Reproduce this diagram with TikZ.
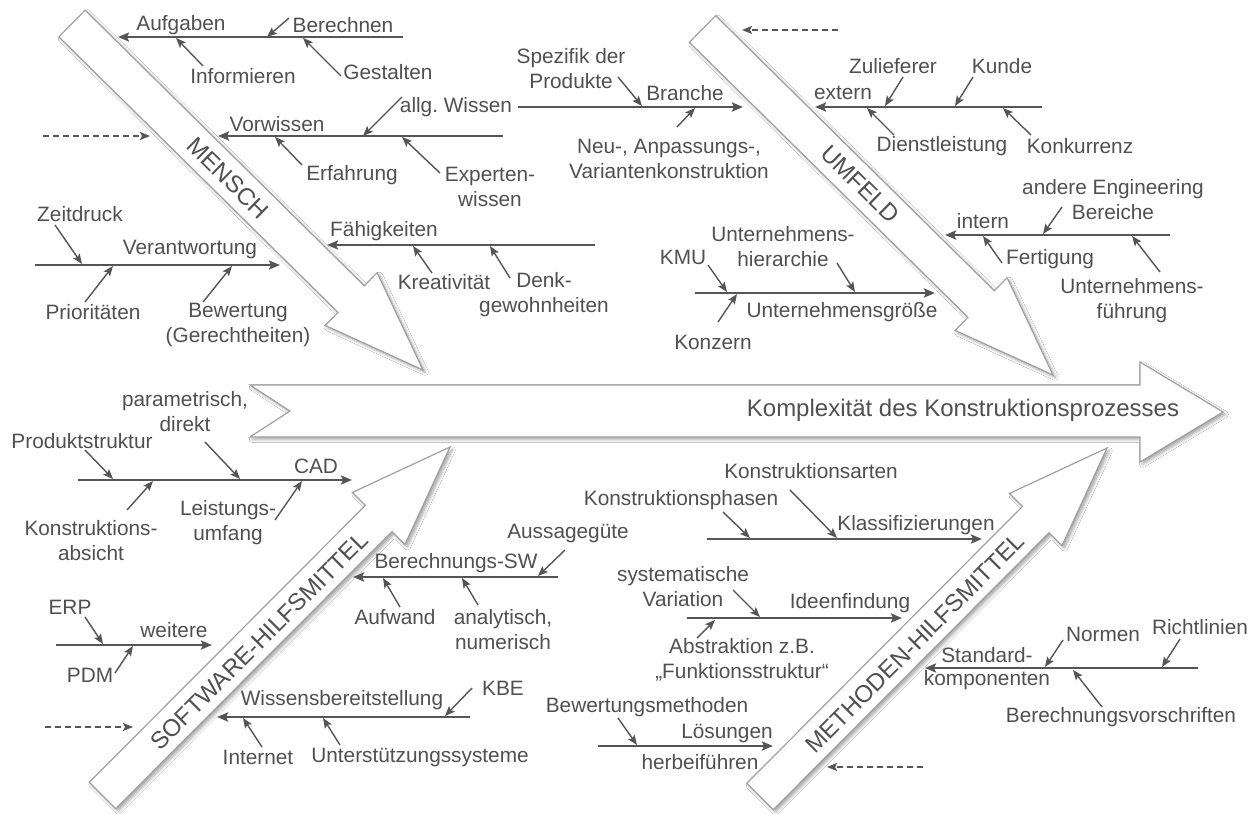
\documentclass[tikz,border=0pt]{standalone}
\usepackage{fontspec}
\setmainfont{Liberation Sans}
\usetikzlibrary{arrows.meta,shadows.blur,calc}
\definecolor{ink}{HTML}{555555}
\definecolor{txt}{HTML}{505050}
\definecolor{barline}{HTML}{A0A0A0}
\newcommand{\conn}[4]{\coordinate (#1s) at (#3); \coordinate (#1e) at (#4); \draw[#2] (#1s) -- (#1e);}
\newcommand{\barrow}[2]{%
  \coordinate (bT) at (#1); \coordinate (bP) at (#2);
  \coordinate (bB) at ($(bP)!101pt!(bT)$);
  \path[blk] ($(bT)!18.7pt!90:(bP)$) -- ($(bB)!18.7pt!90:(bP)$) -- ($(bB)!37pt!90:(bP)$) -- (bP)
     -- ($(bB)!37pt!-90:(bP)$) -- ($(bB)!18.7pt!-90:(bP)$) -- ($(bT)!18.7pt!-90:(bP)$) -- cycle;}
\begin{document}
\begin{tikzpicture}[x=1pt,y=-1pt,
  lbl/.style={text=txt, font=\fontsize{20.8}{25}\selectfont, inner sep=0pt, align=center},
  barlbl/.style={text=txt, font=\fontsize{24}{28}\selectfont, inner sep=0pt},
  bone/.style={draw=ink, line width=2.4pt, -{Stealth[length=11pt,width=9pt,inset=2pt]}},
  sub/.style={draw=ink, line width=1.4pt, -{Stealth[length=10pt,width=8pt,inset=2pt]}},
  dasharrow/.style={draw=ink, line width=1.6pt, dash pattern=on 6pt off 4pt, -{Stealth[length=10pt,width=8pt,inset=2pt]}},
  blk/.style={draw=barline, line width=1.2pt, fill=white, blur shadow={shadow xshift=2.5pt,shadow yshift=-2.5pt,shadow blur radius=3pt,shadow blur steps=6,shadow opacity=35}}
]
\useasboundingbox (0,0) rectangle (1259,814);
\fill[white] (0,0) rectangle (1259,814);

% main spine
\path[blk] (250,385) -- (1140,385) -- (1140,362) -- (1223,412) -- (1140,462) -- (1140,437) -- (250,437) -- (290,411) -- cycle;
\node[text=txt, font=\fontsize{24}{28}\selectfont, inner sep=0pt] (komplex) at (963,410) {Komplexität des Konstruktionsprozesses};

% category bars
\barrow{72,23.5}{423,370}
\barrow{702.5,29}{1053,375}
\barrow{102.5,795.5}{450,447}
\barrow{760,796.5}{1107,448}
\node[barlbl, rotate=-44.6] (mensch) at (228,178) {MENSCH};
\node[barlbl, rotate=-44.6] (umfeld) at (860,184) {UMFELD};
\node[barlbl, rotate=45.1] (software) at (259,641) {SOFTWARE-HILFSMITTEL};
\node[barlbl, rotate=45.1] (methoden) at (915,643) {METHODEN-HILFSMITTEL};

% ---------------- MENSCH
\node[lbl] (aufg) at (181,25) {Aufgaben};
\conn{aufgL}{bone}{403,37}{118,37}
\node[lbl] (berech) at (343,25) {Berechnen};
\conn{berechA}{sub}{289,18}{267,37}
\node[lbl] (inform) at (243,76) {Informieren};
\conn{informA}{sub}{203,66}{176,38}
\node[lbl] (gestalt) at (388,72) {Gestalten};
\conn{gestaltA}{sub}{341,76}{303,38}

\node[lbl] (vorw) at (277,124) {Vorwissen};
\conn{vorwL}{bone}{503,136}{218,136}
\node[lbl] (allg) at (456,107) {allg.\ Wissen};
\conn{allgA}{sub}{402,97}{363,136}
\node[lbl] (erf) at (352,175) {Erfahrung};
\conn{erfA}{sub}{302,165}{275,137}
\node[lbl] (expert) at (490,187) {Experten-\\wissen};
\conn{expertA}{sub}{440,173}{402,137}
\conn{dashM}{dasharrow}{43,136}{150,136}

\node[lbl] (faeh) at (384,231) {Fähigkeiten};
\conn{faehL}{bone}{595,245}{327,245}
\node[lbl] (kreat) at (444,282) {Kreativität};
\conn{kreatA}{sub}{432,273}{413,246}
\node[lbl] (denk) at (544,295) {Denk-\\gewohnheiten};
\conn{denkA}{sub}{510,278}{490,246}

\node[lbl] (verant) at (190,250) {Verantwortung};
\conn{verantL}{bone}{35,265}{280,265}
\node[lbl] (zeit) at (80,214) {Zeitdruck};
\conn{zeitA}{sub}{55,225}{82,264}
\node[lbl] (prio) at (93,312) {Prioritäten};
\conn{prioA}{sub}{85,302}{113,266}
\node[lbl] (bewert) at (238,325) {Bewertung\\(Gerechtheiten)};
\conn{bewertA}{sub}{203,302}{232,266}

% ---------------- UMFELD
\node[lbl] (branche) at (685,93) {Branche};
\conn{brancheL}{bone}{518,107}{743,107}
\node[lbl] (spez) at (571,69) {Spezifik der\\Produkte};
\conn{spezA}{sub}{618,77}{642,106}
\node[lbl] (neu) at (669,159) {Neu-, Anpassungs-,\\Variantenkonstruktion};
\conn{neuA}{sub}{677,127}{695,108}
\conn{dashU}{dasharrow}{838,30}{742,30}

\node[lbl] (extern) at (843,93) {extern};
\conn{externL}{bone}{1042,107}{815,107}
\node[lbl] (zulief) at (893,66) {Zulieferer};
\conn{zuliefA}{sub}{903,77}{885,106}
\node[lbl] (kunde) at (1002,66) {Kunde};
\conn{kundeA}{sub}{973,77}{955,106}
\node[lbl] (dienst) at (942,146) {Dienstleistung};
\conn{dienstA}{sub}{894,135}{867,108}
\node[lbl] (konk) at (1080,146) {Konkurrenz};
\conn{konkA}{sub}{1031,135}{1003,108}

\node[lbl] (intern) at (983,221) {intern};
\conn{internL}{bone}{1170,235}{945,235}
\node[lbl] (andere) at (1113,200) {andere Engineering\\Bereiche};
\conn{andereA}{sub}{1062,207}{1043,234}
\node[lbl] (fert) at (1050,259) {Fertigung};
\conn{fertA}{sub}{1002,263}{983,236}
\node[lbl] (ufuehr) at (1132,301) {Unternehmens-\\führung};
\conn{ufuehrA}{sub}{1160,272}{1132,236}

\node[lbl] (ugroesse) at (842,312) {Unternehmensgröße};
\conn{ugroesseL}{bone}{695,293}{935,293}
\node[lbl] (kmu) at (683,257) {KMU};
\conn{kmuA}{sub}{708,265}{727,292}
\node[lbl] (uhier) at (783,247) {Unternehmens-\\hierarchie};
\conn{uhierA}{sub}{837,263}{855,292}
\node[lbl] (konzern) at (713,342) {Konzern};
\conn{konzernA}{sub}{718,322}{737,294}

% ---------------- SOFTWARE
\node[lbl] (cad) at (316,466) {CAD};
\conn{cadL}{bone}{78,480}{352,480}
\node[lbl] (prodst) at (82,441) {Produktstruktur};
\conn{prodstA}{sub}{85,450}{113,479}
\node[lbl] (param) at (185,412) {parametrisch,\\direkt};
\conn{paramA}{sub}{205,442}{240,479}
\node[lbl] (kabs) at (91,541) {Konstruktions-\\absicht};
\conn{kabsA}{sub}{127,510}{153,481}
\node[lbl] (leist) at (228,523) {Leistungs-\\umfang};
\conn{leistA}{sub}{275,520}{302,481}

\node[lbl] (bsw) at (456,563) {Berechnungs-SW};
\conn{bswL}{bone}{558,577}{353,577}
\node[lbl] (aussage) at (568,533) {Aussagegüte};
\conn{aussageA}{sub}{565,550}{538,576}
\node[lbl] (aufwand) at (395,617) {Aufwand};
\conn{aufwandA}{sub}{400,607}{383,578}
\node[lbl] (analyt) at (503,630) {analytisch,\\numerisch};
\conn{analytA}{sub}{478,605}{462,578}

\node[lbl] (weitere) at (174,630) {weitere};
\conn{weitereL}{bone}{56,645}{212,645}
\node[lbl] (erp) at (70,607) {ERP};
\conn{erpA}{sub}{85,617}{103,644}
\node[lbl] (pdm) at (90,675) {PDM};
\conn{pdmA}{sub}{115,673}{133,646}
\conn{dashS}{dasharrow}{45,727}{133,727}

\node[lbl] (wissen) at (342,700) {Wissensbereitstellung};
\conn{wissenL}{bone}{470,717}{217,717}
\node[lbl] (kbe) at (503,688) {KBE};
\conn{kbeA}{sub}{472,688}{445,716}
\node[lbl] (internet) at (258,757) {Internet};
\conn{internetA}{sub}{262,747}{243,718}
\node[lbl] (unterst) at (420,757) {Unterstützungssysteme};
\conn{unterstA}{sub}{340,745}{323,718}

% ---------------- METHODEN
\node[lbl] (klass) at (916,525) {Klassifizierungen};
\conn{klassL}{bone}{707,539}{982,539}
\node[lbl] (kphasen) at (681,500) {Konstruktionsphasen};
\conn{kphasenA}{sub}{723,512}{750,538}
\node[lbl] (karten) at (811,471) {Konstruktionsarten};
\conn{kartenA}{sub}{790,490}{837,538}

\node[lbl] (ideen) at (850,603) {Ideenfindung};
\conn{ideenL}{bone}{687,618}{902,618}
\node[lbl] (sysvar) at (683,587) {systematische\\Variation};
\conn{sysvarA}{sub}{733,590}{760,617}
\node[lbl] (abstr) at (742,660) {Abstraktion z.B.\\„Funktionsstruktur“};
\conn{abstrA}{sub}{697,638}{715,620}

\node[lbl] (loes) at (727,733) {Lösungen};
\node[lbl] (herbei) at (700,762) {herbeiführen};
\conn{loesL}{bone}{598,746}{773,746}
\node[lbl] (bewm) at (647,707) {Bewertungsmethoden};
\conn{bewmA}{sub}{618,718}{637,745}
\conn{dashMe}{dasharrow}{923,767}{827,767}

\node[lbl] (standard) at (987,655) {Standard-};
\node[lbl] (komp) at (987,680) {komponenten};
\conn{standardL}{bone}{1198,668}{925,668}
\node[lbl] (normen) at (1103,634) {Normen};
\conn{normenA}{sub}{1063,640}{1045,667}
\node[lbl] (richt) at (1200,627) {Richtlinien};
\conn{richtA}{sub}{1180,639}{1162,667}
\node[lbl] (berv) at (1121,717) {Berechnungsvorschriften};
\conn{bervA}{sub}{1102,707}{1073,670}
\end{tikzpicture}
\end{document}
